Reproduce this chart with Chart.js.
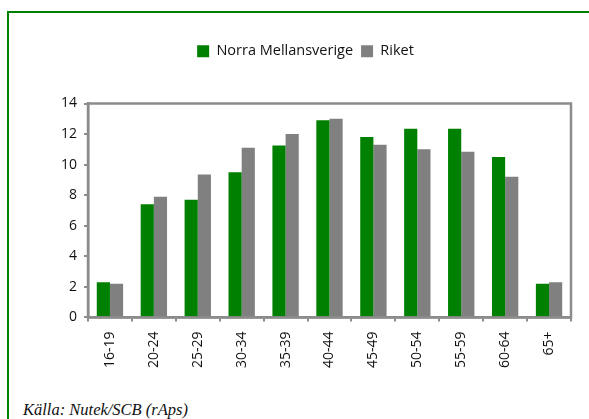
<!DOCTYPE html>
<html lang="sv">
<head>
  <meta charset="UTF-8" />
  <title>Norra Mellansverige - Riket</title>
  <script src="https://cdn.jsdelivr.net/npm/chart.js"></script>
  <style>
    html, body { margin: 0; padding: 0; background: #fff; }
    body { width: 589px; height: 419px; position: relative; overflow: hidden; }
    .frame {
      position: absolute; left: 7px; top: 11px; width: 600px; height: 420px;
      border-top: 2px solid #008000; border-left: 2px solid #008000;
    }
    .chart-box { position: absolute; left: 0; top: 0; width: 589px; height: 390px; }
    .source {
      position: absolute; left: 23px; top: 400px;
      font-family: "Liberation Serif", "Times New Roman", serif;
      font-style: italic; font-size: 16.5px; color: #111;
    }
  </style>
</head>
<body>
<div class="frame"></div>
<div class="chart-box"><canvas id="chart"></canvas></div>
<div class="source">Källa: Nutek/SCB (rAps)</div>

<script>
  // age groups and shares (%)
  const ageGroups = ["16-19", "20-24", "25-29", "30-34", "35-39", "40-44", "45-49", "50-54", "55-59", "60-64", "65+"];
  const norraMellansverige = [2.3, 7.4, 7.7, 9.5, 11.25, 12.9, 11.8, 12.35, 12.35, 10.5, 2.2];
  const riket = [2.2, 7.9, 9.35, 11.1, 12.0, 13.0, 11.3, 11.0, 10.85, 9.2, 2.3];
  const yTicks = [0, 2, 4, 6, 8, 10, 12, 14];

  const axisGray = "#8c8c8c";
  const textColor = "#111";

  // extra room under the legend
  const legendGap = {
    id: "legendGap",
    beforeInit(chart) {
      const fit = chart.legend.fit;
      chart.legend.fit = function () {
        fit.bind(chart.legend)();
        this.height += 35;
      };
    }
  };

  // box round the plot area (top and right sides too)
  const plotBox = {
    id: "plotBox",
    afterDatasetsDraw(chart) {
      const { ctx, chartArea: a } = chart;
      ctx.save();
      ctx.strokeStyle = axisGray;
      ctx.lineWidth = 2.5;
      ctx.strokeRect(a.left, a.top, a.right - a.left, a.bottom - a.top);
      ctx.restore();
    }
  };

  new Chart(document.getElementById("chart"), {
    type: "bar",
    data: {
      labels: ageGroups,
      datasets: [
        { label: "Norra Mellansverige", data: norraMellansverige, backgroundColor: "#008000" },
        { label: "Riket", data: riket, backgroundColor: "#808080" }
      ]
    },
    options: {
      responsive: true,
      maintainAspectRatio: false,
      animation: false,
      layout: { padding: { left: 40, right: 18, top: 36, bottom: 12 } },
      plugins: {
        tooltip: { enabled: false },
        legend: {
          position: "top",
          labels: {
            font: { family: "'Open Sans', sans-serif", size: 14.5 },
            color: textColor,
            boxWidth: 12,
            boxHeight: 12,
            padding: 8
          }
        }
      },
      datasets: { bar: { categoryPercentage: 0.6, barPercentage: 1.0 } },
      scales: {
        x: {
          grid: { display: true, drawOnChartArea: false, offset: true, color: axisGray, lineWidth: 2, tickLength: 4 },
          border: { color: axisGray, width: 2.5 },
          ticks: { font: { family: "'Open Sans', sans-serif", size: 14 }, color: textColor, minRotation: 90, maxRotation: 90, padding: 10 }
        },
        y: {
          min: 0,
          max: 14,
          afterBuildTicks(scale) { scale.ticks = yTicks.map(v => ({ value: v })); },
          afterFit(scale) { scale.width = 48; },
          grid: { display: true, drawOnChartArea: false, color: axisGray, lineWidth: 2, tickLength: 4 },
          border: { color: axisGray, width: 2.5 },
          ticks: { font: { family: "'Open Sans', sans-serif", size: 14 }, color: textColor, padding: 7 }
        }
      }
    },
    plugins: [legendGap, plotBox]
  });
</script>
</body>
</html>
